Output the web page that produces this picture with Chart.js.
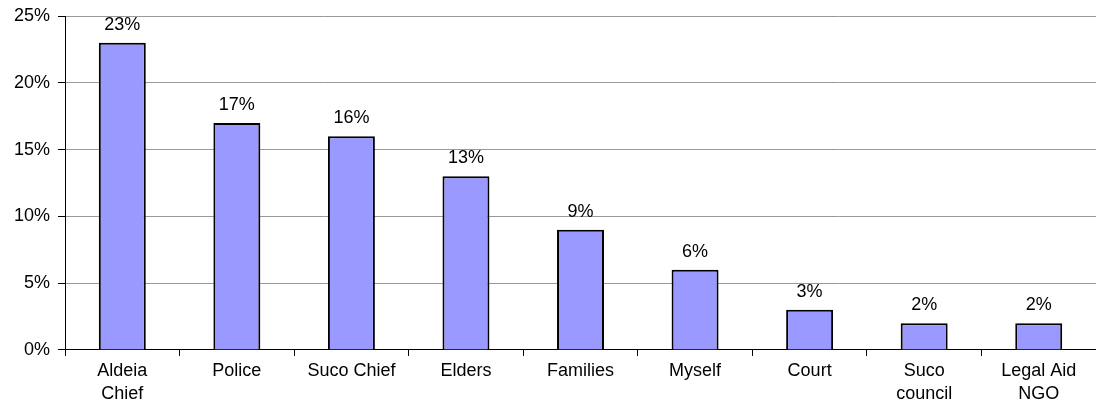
<!DOCTYPE html>
<html>
<head>
<meta charset="utf-8">
<script src="https://cdn.jsdelivr.net/npm/chart.js@4.4.0/dist/chart.umd.min.js"></script>
<style>
  html, body { margin: 0; padding: 0; background: #fff; }
  #wrap { width: 1096px; height: 416px; }
</style>
</head>
<body>
<div id="wrap"><canvas id="chart"></canvas></div>
<script>
const categories = [['Aldeia', 'Chief'], 'Police', 'Suco Chief', 'Elders', 'Families', 'Myself', 'Court', ['Suco', 'council'], ['Legal Aid', 'NGO']];
const values = [23, 17, 16, 13, 9, 6, 3, 2, 2];
const yTicks = [0, 5, 10, 15, 20, 25];

const FONT = 'Liberation Sans, Arial, sans-serif';

// draws the % labels above each bar
const barLabels = {
  id: 'barLabels',
  afterDatasetsDraw(chart) {
    const ctx = chart.ctx;
    const meta = chart.getDatasetMeta(0);
    ctx.save();
    ctx.fillStyle = '#000';
    ctx.font = '18px ' + FONT;
    ctx.textAlign = 'center';
    ctx.textBaseline = 'bottom';
    meta.data.forEach((bar, i) => {
      ctx.fillText(values[i] + '%', bar.x, bar.y - 9);
    });
    ctx.restore();
  }
};

new Chart(document.getElementById('chart').getContext('2d'), {
  type: 'bar',
  data: {
    labels: categories,
    datasets: [{
      data: values,
      backgroundColor: '#9999FF',
      borderColor: '#000',
      borderWidth: 2,
      barPercentage: 0.41,
      categoryPercentage: 1
    }]
  },
  options: {
    responsive: true,
    maintainAspectRatio: false,
    animation: false,
    layout: { padding: { top: 0, right: 0, left: 6, bottom: 6 } },
    plugins: {
      legend: { display: false },
      tooltip: { enabled: false }
    },
    scales: {
      x: {
        grid: { offset: true, drawOnChartArea: false, color: '#000', tickLength: 6 },
        border: { color: '#000', width: 1 },
        ticks: { color: '#000', font: { family: FONT, size: 18, lineHeight: 1.28 }, maxRotation: 0, autoSkip: false, padding: 4 }
      },
      y: {
        min: 0,
        max: 25,
        afterBuildTicks(axis) { axis.ticks = yTicks.map(v => ({ value: v })); },
        grid: { color: '#999', tickLength: 7, tickColor: '#000' },
        border: { color: '#000', width: 1 },
        ticks: {
          color: '#000',
          font: { family: FONT, size: 18, lineHeight: 0.9 },
          padding: 8,
          callback: v => v + '%'
        }
      }
    }
  },
  plugins: [barLabels]
});
</script>
</body>
</html>
